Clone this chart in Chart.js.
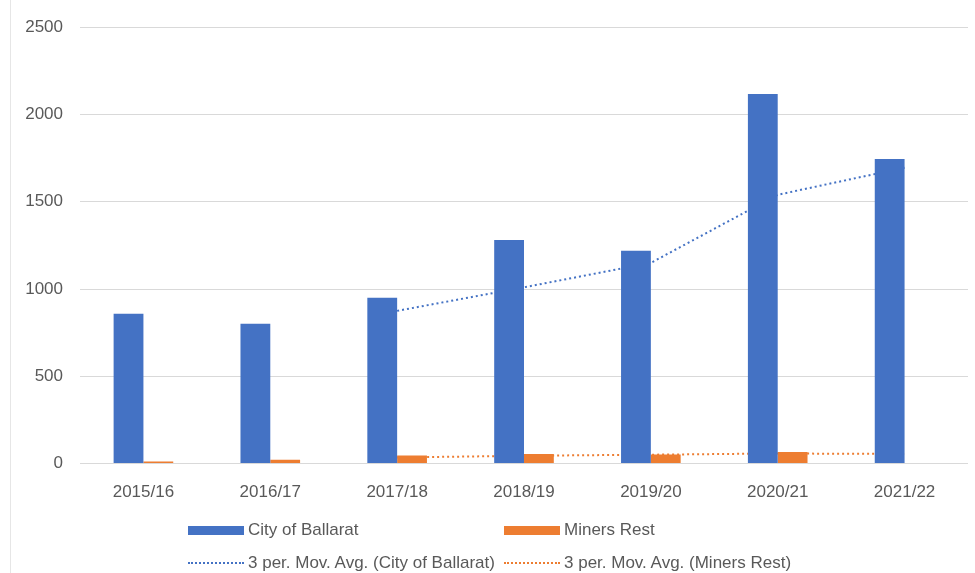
<!DOCTYPE html>
<html>
<head>
<meta charset="utf-8">
<script src="https://cdn.jsdelivr.net/npm/chart.js@4"></script>
<style>
  html, body { margin: 0; padding: 0; background: #fff; }
  #wrap { position: relative; width: 975px; height: 573px; overflow: hidden; }
  #edge { position: absolute; left: 10px; top: 0; width: 1px; height: 573px; background: #e6e6e6; }
  canvas { position: absolute; left: 0; top: 0; }
  .leg { position: absolute; font-family: "Liberation Sans", Arial, sans-serif; font-size: 17px; color: #595959; white-space: nowrap; display: flex; align-items: center; height: 20px; }
  .box { display: inline-block; width: 56px; height: 9px; margin-right: 4px; }
  .dot { display: inline-block; width: 56px; height: 0; border-top: 2px dotted; margin-right: 4px; }
</style>
</head>
<body>
<div id="wrap">
  <div id="edge"></div>
  <canvas id="c" width="975" height="573"></canvas>
  <div class="leg" style="left:188px; top:520px;"><span class="box" style="background:#4472c4"></span>City of Ballarat</div>
  <div class="leg" style="left:504px; top:520px;"><span class="box" style="background:#ed7d31"></span>Miners Rest</div>
  <div class="leg" style="left:188px; top:553px;"><span class="dot" style="border-color:#4472c4"></span>3 per. Mov. Avg. (City of Ballarat)</div>
  <div class="leg" style="left:504px; top:553px;"><span class="dot" style="border-color:#ed7d31"></span>3 per. Mov. Avg. (Miners Rest)</div>
</div>
<script>
const categories = ["2015/16", "2016/17", "2017/18", "2018/19", "2019/20", "2020/21", "2021/22"];
const ballarat = [858, 801, 950, 1281, 1219, 2117, 1745];
const minersRest = [12, 22, 47, 55, 52, 66, null];
const ballaratMovAvg = [null, null, 875, 1010, 1150, 1540, 1695];
const minersRestMovAvg = [null, null, 35, 45, 51, 58, 55];
const yTicks = [0, 500, 1000, 1500, 2000, 2500];

const BLUE = "#4472c4";
const ORANGE = "#ed7d31";
const FONT = "'Liberation Sans', Arial, sans-serif";

new Chart(document.getElementById("c"), {
  data: {
    labels: categories,
    datasets: [
      { type: "bar", label: "City of Ballarat", data: ballarat, backgroundColor: BLUE, order: 1, categoryPercentage: 0.47, barPercentage: 1.0 },
      { type: "bar", label: "Miners Rest", data: minersRest, backgroundColor: ORANGE, order: 1, categoryPercentage: 0.47, barPercentage: 1.0 },
      { type: "line", label: "3 per. Mov. Avg. (City of Ballarat)", data: ballaratMovAvg, borderColor: BLUE, borderWidth: 2, borderDash: [2, 3], pointRadius: 0, fill: false, tension: 0, order: 2, spanGaps: false },
      { type: "line", label: "3 per. Mov. Avg. (Miners Rest)", data: minersRestMovAvg, borderColor: ORANGE, borderWidth: 2, borderDash: [2, 3], pointRadius: 0, fill: false, tension: 0, order: 2, spanGaps: false }
    ]
  },
  options: {
    responsive: false,
    animation: false,
    layout: { padding: { top: 25, right: 7, bottom: 51, left: 0 } },
    plugins: { legend: { display: false }, tooltip: { enabled: false } },
    scales: {
      x: {
        offset: true,
        grid: { display: false, drawTicks: false },
        border: { display: false },
        ticks: { color: "#595959", font: { family: FONT, size: 17 }, padding: 19, maxRotation: 0 }
      },
      y: {
        min: 0, max: 2500,
        afterBuildTicks: (s) => { s.ticks = yTicks.map(v => ({ value: v })); },
        afterFit: (s) => { s.width = 80; },
        grid: { color: "#d9d9d9", lineWidth: 1, drawTicks: false },
        border: { display: false },
        ticks: { color: "#595959", font: { family: FONT, size: 17 }, padding: 17, callback: (v) => String(v) }
      }
    }
  }
});
</script>
</body>
</html>
